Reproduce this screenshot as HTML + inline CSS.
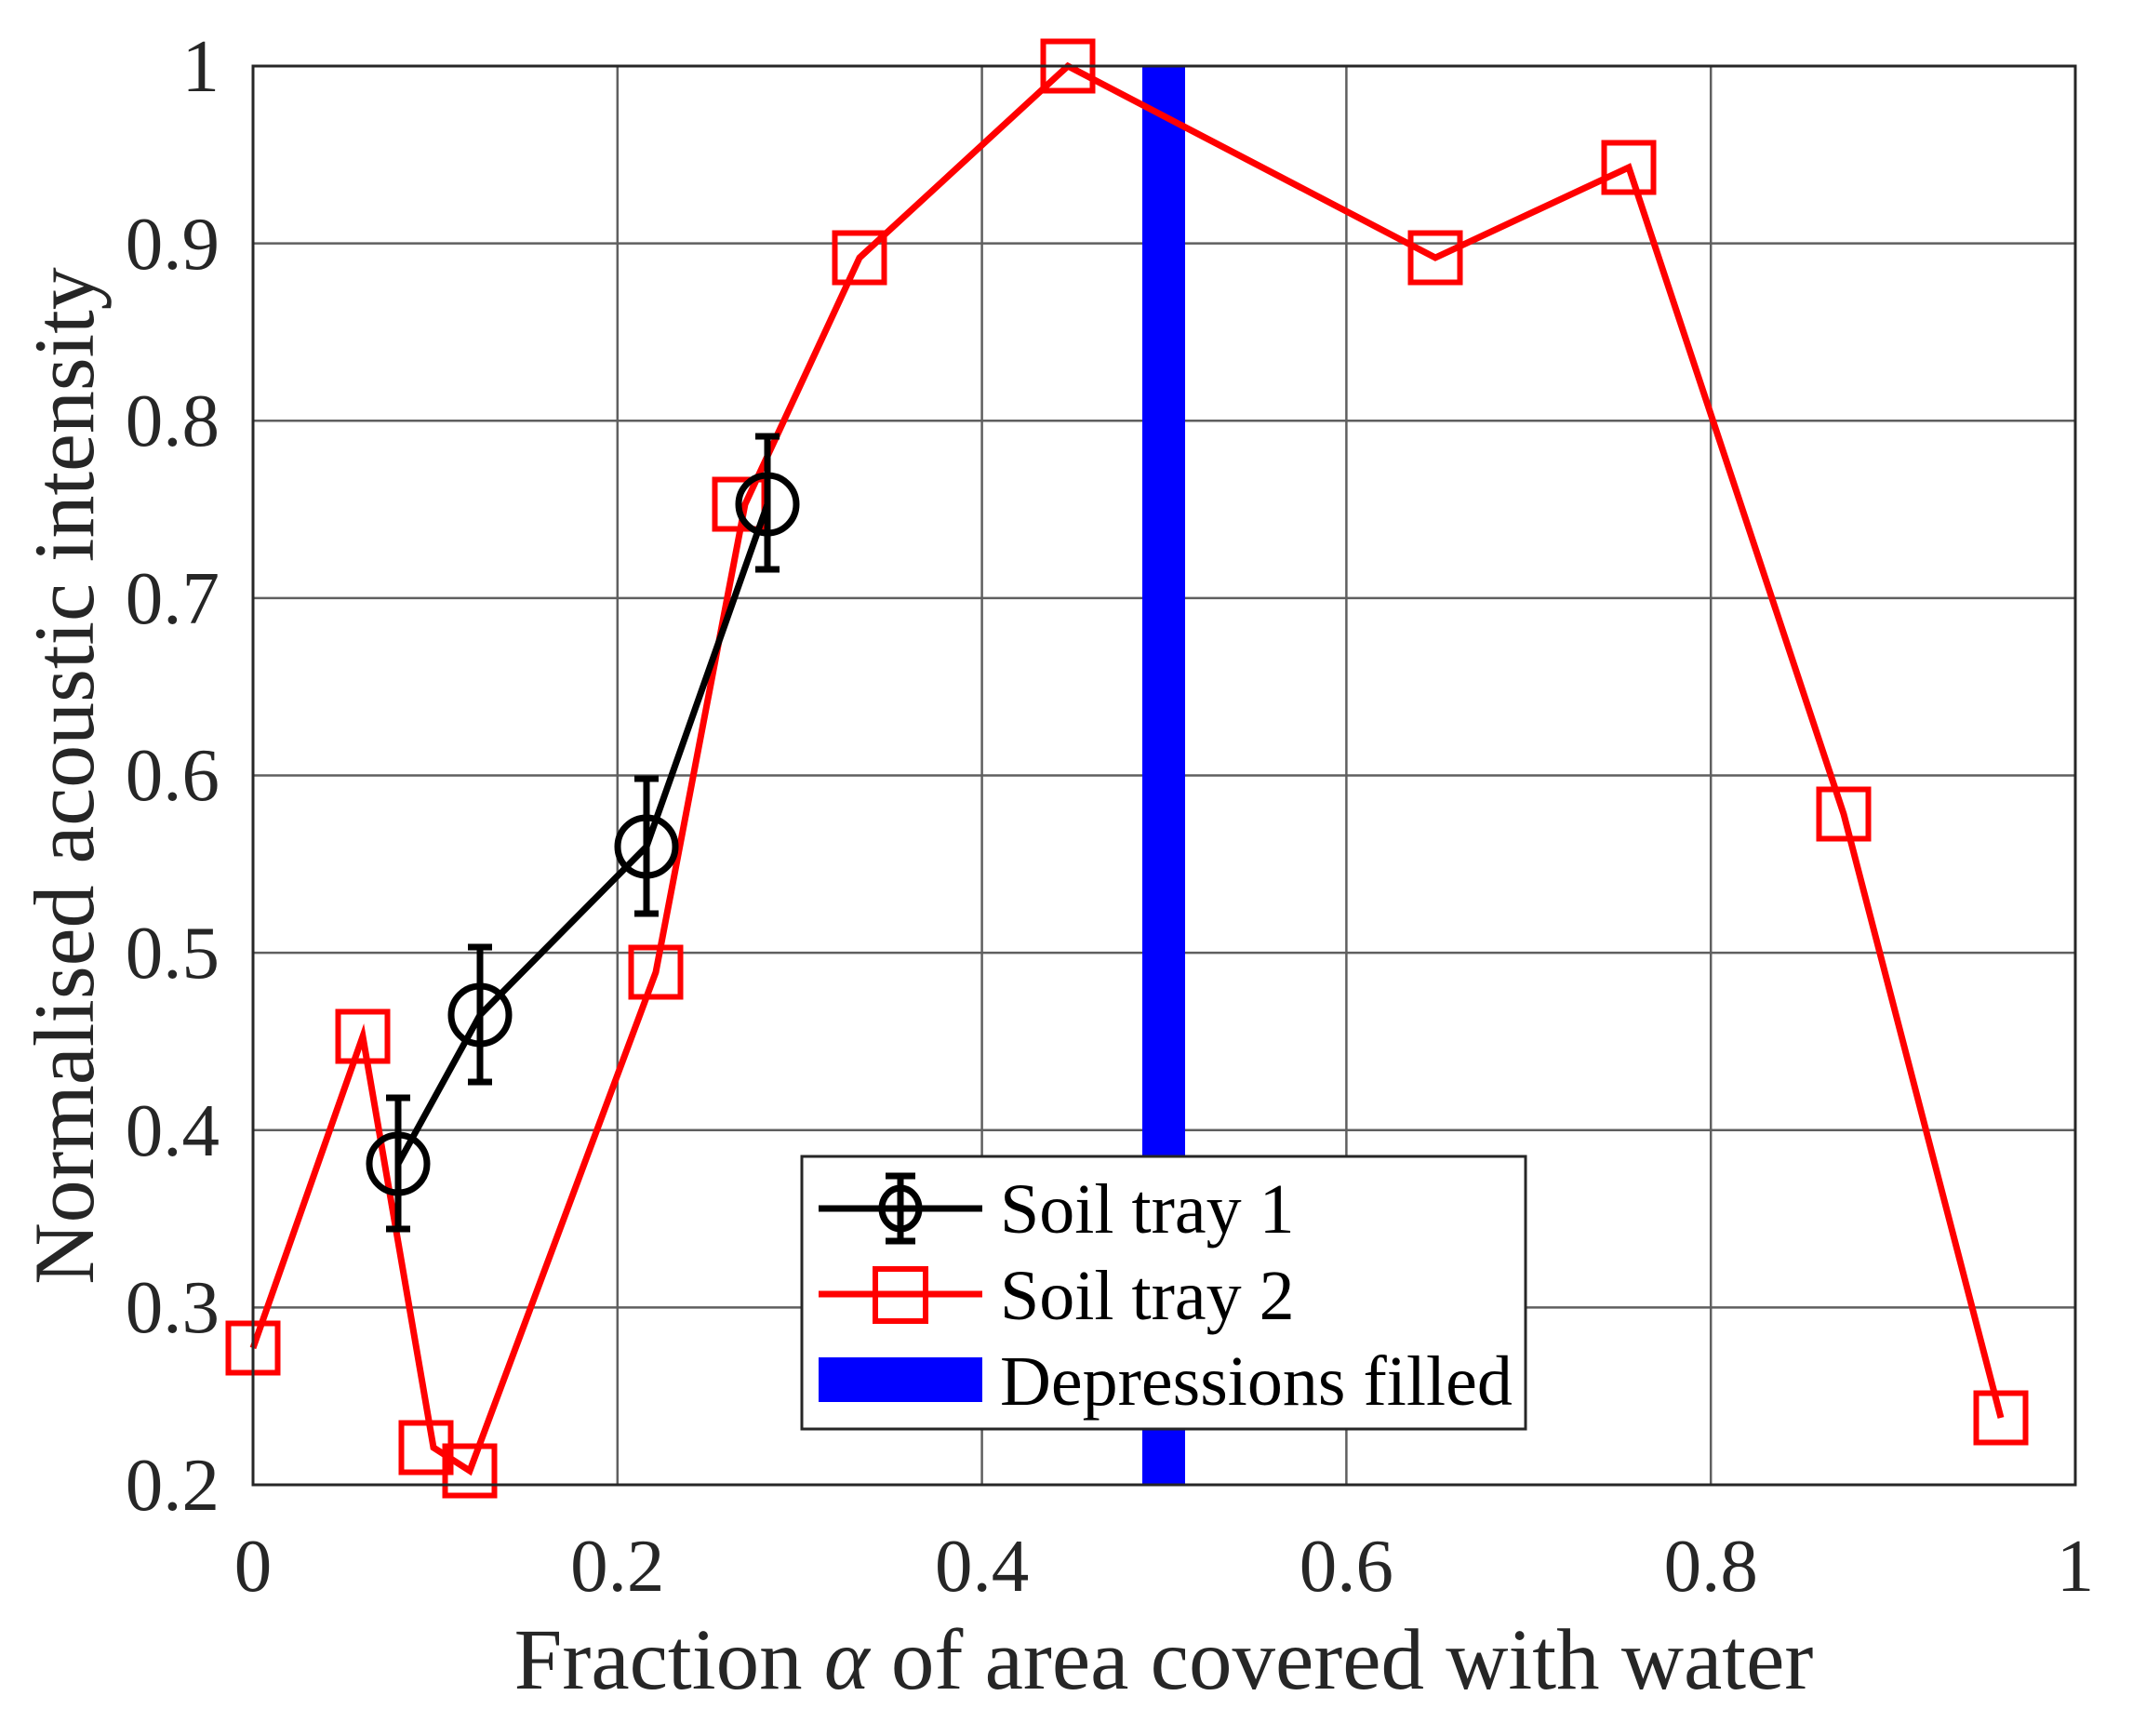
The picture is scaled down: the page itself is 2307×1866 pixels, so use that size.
<!DOCTYPE html>
<html><head><meta charset="utf-8"><style>
html,body{margin:0;padding:0;background:#fff;}
svg{display:block;}
text{font-family:"Liberation Serif",serif;fill:#262626;}
</style></head><body>
<svg width="2307" height="1866" viewBox="0 0 2307 1866" xmlns="http://www.w3.org/2000/svg">
<rect width="2307" height="1866" fill="#fff"/>
<g stroke="#444" stroke-width="2.5" opacity="0.85">
<line x1="663.8" y1="71" x2="663.8" y2="1596"/>
<line x1="1055.6" y1="71" x2="1055.6" y2="1596"/>
<line x1="1447.4" y1="71" x2="1447.4" y2="1596"/>
<line x1="1839.2" y1="71" x2="1839.2" y2="1596"/>
<line x1="272" y1="1405.4" x2="2231" y2="1405.4"/>
<line x1="272" y1="1214.75" x2="2231" y2="1214.75"/>
<line x1="272" y1="1024.1" x2="2231" y2="1024.1"/>
<line x1="272" y1="833.5" x2="2231" y2="833.5"/>
<line x1="272" y1="642.9" x2="2231" y2="642.9"/>
<line x1="272" y1="452.25" x2="2231" y2="452.25"/>
<line x1="272" y1="261.6" x2="2231" y2="261.6"/>
</g>
<rect x="1228" y="71" width="46" height="1525" fill="#0000ff"/>
<polyline fill="none" stroke="#ff0000" stroke-width="7" stroke-linejoin="miter"
points="272,1449 390,1114 466,1556 505,1581 705,1045 801,542 924,277 1148,71 1543,277 1751,180 1982,875 2151,1524"/>
<g fill="none" stroke="#ff0000" stroke-width="6">
<rect x="245.5" y="1422.5" width="53" height="53"/>
<rect x="363.5" y="1087.5" width="53" height="53"/>
<rect x="431.5" y="1529.5" width="53" height="53"/>
<rect x="478.5" y="1554.5" width="53" height="53"/>
<rect x="678.5" y="1018.5" width="53" height="53"/>
<rect x="768.5" y="515.5" width="53" height="53"/>
<rect x="897.5" y="250.5" width="53" height="53"/>
<rect x="1121.5" y="44.5" width="53" height="53"/>
<rect x="1516.5" y="250.5" width="53" height="53"/>
<rect x="1724.5" y="153.5" width="53" height="53"/>
<rect x="1955.5" y="848.5" width="53" height="53"/>
<rect x="2124.5" y="1497.5" width="53" height="53"/>
</g>
<polyline fill="none" stroke="#000" stroke-width="7" points="428,1251 516,1091 695,910 825,542"/>
<g stroke="#000" stroke-width="7" fill="none">
<path d="M428,1180 V1321 M415,1180 H441 M415,1321 H441"/>
<path d="M516,1018 V1163 M503,1018 H529 M503,1163 H529"/>
<path d="M695,837 V982 M682,837 H708 M682,982 H708"/>
<path d="M825,469 V612 M812,469 H838 M812,612 H838"/>
<circle cx="428" cy="1251" r="31"/>
<circle cx="516" cy="1091" r="31"/>
<circle cx="695" cy="910" r="31"/>
<circle cx="825" cy="542" r="31"/>
</g>
<rect x="272" y="71" width="1959" height="1525" fill="none" stroke="#262626" stroke-width="3"/>
<g font-size="81" text-anchor="end">
<text x="236" y="98">1</text>
<text x="236" y="289">0.9</text>
<text x="236" y="479">0.8</text>
<text x="236" y="670">0.7</text>
<text x="236" y="860">0.6</text>
<text x="236" y="1051">0.5</text>
<text x="236" y="1242">0.4</text>
<text x="236" y="1432">0.3</text>
<text x="236" y="1623">0.2</text>
</g>
<g font-size="81" text-anchor="middle">
<text x="272" y="1710">0</text>
<text x="663.8" y="1710">0.2</text>
<text x="1055.6" y="1710">0.4</text>
<text x="1447.4" y="1710">0.6</text>
<text x="1839.2" y="1710">0.8</text>
<text x="2231" y="1710">1</text>
</g>
<text x="1251" y="1815" font-size="93" text-anchor="middle">Fraction <tspan font-style="italic">α</tspan> of area covered with water</text>
<text transform="translate(100,834) rotate(-90)" font-size="92" text-anchor="middle">Normalised acoustic intensity</text>
<rect x="862" y="1243" width="778" height="293" fill="#fff" stroke="#262626" stroke-width="3"/>
<line x1="880" y1="1299" x2="1056" y2="1299" stroke="#000" stroke-width="7"/>
<ellipse cx="968" cy="1299" rx="20" ry="22" fill="none" stroke="#000" stroke-width="7"/>
<path d="M968,1264 V1334 M952,1264 H984 M952,1334 H984" stroke="#000" stroke-width="7" fill="none"/>
<line x1="880" y1="1391" x2="1056" y2="1391" stroke="#ff0000" stroke-width="7"/>
<rect x="941" y="1364" width="54" height="56" fill="none" stroke="#ff0000" stroke-width="6"/>
<rect x="880" y="1459" width="176" height="48" fill="#0000ff"/>
<g font-size="76">
<text x="1075" y="1325" style="fill:#000">Soil tray 1</text>
<text x="1075" y="1418" style="fill:#000">Soil tray 2</text>
<text x="1075" y="1510" style="fill:#000">Depressions filled</text>
</g>
</svg>
</body></html>
